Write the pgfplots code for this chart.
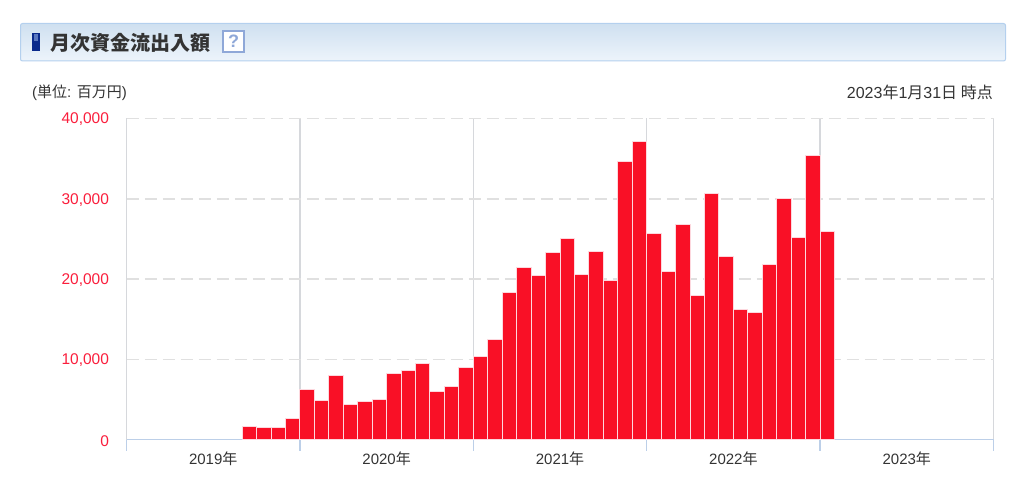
\documentclass[border=0pt]{standalone}
\usepackage{fontspec}
\setmainfont{Liberation Sans}
\newfontfamily\cjk{Noto Sans CJK JP}
\usepackage{pgfplots}
\pgfplotsset{compat=1.18}
\definecolor{barred}{HTML}{F91026}
\definecolor{barpink}{HTML}{FDD8DE}
\definecolor{tickred}{HTML}{FA1E3C}
\definecolor{gridgray}{HTML}{E0E0E0}
\definecolor{vgrid}{HTML}{D6D8DC}
\definecolor{axisblue}{HTML}{BCCFE8}
\definecolor{ink}{HTML}{333333}
\definecolor{headtop}{HTML}{CFE0F0}
\definecolor{headbot}{HTML}{EDF4FB}
\definecolor{headline}{HTML}{B4D0EE}
\definecolor{qline}{HTML}{8FA8D8}
\definecolor{iconblue}{HTML}{0A2A8C}
\definecolor{iconlight}{HTML}{5A78C0}
\begin{document}
\begin{tikzpicture}[x=1pt,y=1pt]
\path (0,0) rectangle (1024,494);
% header band
\shade[top color=headtop,bottom color=headbot,rounded corners=2pt] (20.5,433) rectangle (1005.5,470.5);
\draw[headline,line width=1pt,rounded corners=2pt] (20.5,433) rectangle (1005.5,470.5);
\fill[iconblue] (32,443) rectangle (40,461);
\fill[iconlight] (34,453) rectangle (38,460);
\node[anchor=west,inner sep=0pt,text=ink] at (50,451.5) {\fontsize{20}{20}\selectfont\cjk\bfseries 月次資金流出入額};
\draw[qline,fill=white,line width=2pt] (223,442) rectangle (244,463);
\node[text=qline] at (233.5,452.5) {\fontsize{18}{18}\selectfont\bfseries ?};
\node[anchor=west,inner sep=0pt,text=ink] at (32,401.5) {\fontsize{15}{15}\selectfont (\cjk 単位\rmfamily: \cjk 百万円\rmfamily)};
\node[anchor=east,inner sep=0pt,text=ink] at (993,401.5) {\fontsize{16}{16}\selectfont 2023\cjk 年\rmfamily 1\cjk 月\rmfamily 31\cjk 日 時点};
\begin{axis}[
  at={(126.5pt,54pt)}, anchor=origin,
  scale only axis, width=867pt, height=321.5pt,
  xmin=0, xmax=60, ymin=0, ymax=40000,
  axis x line*=bottom, axis y line*=left,
  axis line style={-},
  x axis line style={axisblue,line width=1pt},
  y axis line style={draw=none},
  xtick={6,18,30,42,54},
  xticklabels={2019{\cjk 年},2020{\cjk 年},2021{\cjk 年},2022{\cjk 年},2023{\cjk 年}},
  minor xtick={0,12,24,36,48,60},
  xminorgrids=true, xmajorgrids=false,
  minor grid style={vgrid,line width=1.4pt,solid},
  ymajorgrids=true,
  major grid style={gridgray,line width=1.5pt,dash pattern=on 12pt off 6pt},
  ytick={10000,20000,30000,40000},
  extra y ticks={0},
  extra y tick style={grid=none},
  scaled y ticks=false,
  major tick length=0pt,
  minor tick length=11pt,
  tick align=outside,
  minor tick style={axisblue,line width=1.4pt},
  /pgf/number format/assume math mode=true,
  /pgf/number format/1000 sep={,},
  yticklabel style={text=tickred,font=\fontsize{15.5}{15.5}\selectfont,xshift=-14pt,yshift=-0.8pt},
  xticklabel style={text=ink,font=\fontsize{15}{15}\selectfont,yshift=-8pt},
  ybar, bar width=1, bar shift=0pt,
]
\addplot[draw=barpink,line width=1pt,fill=barred] coordinates {
(8.5,1700)(9.5,1500)(10.5,1500)(11.5,2700)(12.5,6300)(13.5,4930)(14.5,8080)(15.5,4470)(16.5,4770)(17.5,5100)
(18.5,8250)(19.5,8700)(20.5,9490)(21.5,6010)(22.5,6680)(23.5,9040)(24.5,10450)(25.5,12480)(26.5,18300)(27.5,21400)
(28.5,20500)(29.5,23340)(30.5,25080)(31.5,20650)(32.5,23470)(33.5,19860)(34.5,34660)(35.5,37150)(36.5,25700)(37.5,20980)
(38.5,26780)(39.5,18000)(40.5,30720)(41.5,22840)(42.5,16250)(43.5,15920)(44.5,21890)(45.5,30100)(46.5,25210)(47.5,35450)
(48.5,26000)};
\end{axis}
\end{tikzpicture}
\end{document}
